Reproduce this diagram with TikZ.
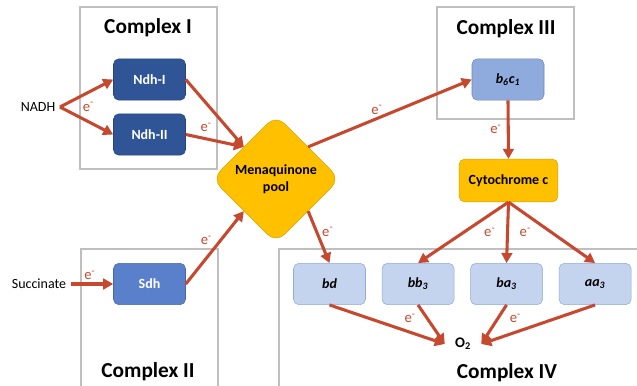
\documentclass[tikz,border=0pt]{standalone}
\usepackage{fontspec}
\setmainfont{Carlito}
\usetikzlibrary{positioning,arrows.meta,shapes.geometric}
\definecolor{ndhblue}{HTML}{2F5597}
\definecolor{sdhblue}{HTML}{5A80CC}
\definecolor{midblue}{HTML}{8FAADC}
\definecolor{paleblue}{HTML}{C5D4EE}
\definecolor{mqorange}{HTML}{FFC000}
\definecolor{flowred}{HTML}{C5482F}
\definecolor{framegray}{HTML}{BFBFBF}

\begin{document}
\begin{tikzpicture}[
		x=0.75pt, y=-0.75pt,
		> = {Triangle[length=7.5pt,width=8pt]},
		node distance=12pt,
		frame/.style={draw=framegray, line width=0.8pt},
		title/.style={font=\fontsize{16}{19}\selectfont\bfseries},
		enz/.style={draw, rounded corners=4pt, minimum width=54pt, minimum height=31pt, inner sep=1pt, font=\fontsize{10.5}{13}\selectfont\bfseries},
		ndh/.style={enz, fill=ndhblue, draw=ndhblue!80!black, text=white},
		sdh/.style={enz, fill=sdhblue, draw=sdhblue!80!black, text=white},
		cyt/.style={enz, fill=midblue, draw=midblue!80!black},
		oxi/.style={enz, fill=paleblue, draw=midblue},
		pool/.style={enz, fill=mqorange, draw=mqorange!85!black},
		substrate/.style={font=\fontsize{10.5}{12}\selectfont},
		flow/.style={->, draw=flowred, line width=2.3pt},
		elabel/.style={inner sep=1pt, text=flowred, font=\fontsize{11}{12}\selectfont}
		]
		\useasboundingbox (0,0) rectangle (637,386);
		% complexes
		\draw[frame] (80,7) rectangle (217,169);
		\draw[frame] (437,7) rectangle (574,119);
		\draw[frame] (81,249) rectangle (218,395);
		\draw[frame] (279,249) rectangle (645,395);
		\node[title] at (148,28) (tI) {Complex I};
		\node[title] at (506,29) (tIII) {Complex III};
		\node[title] at (148,372) (tII) {Complex II};
		\node[title] at (507,373) (tIV) {Complex IV};

		% enzymes
		\node[ndh] at (149.5,79.5) (ndh1) {Ndh-I};
		\node[ndh] at (149.5,134.5) (ndh2) {Ndh-II};
		\node[sdh] at (149.5,284) (sdh) {Sdh};
		\node[pool, diamond, aspect=1, rounded corners=9pt, minimum width=96pt, minimum height=96pt, inner sep=0pt, align=center] at (276,179) (mq) {Menaquinone\\pool};
		\node[cyt] at (508,79.5) (bc) {\textit{b\textsubscript{6}c\textsubscript{1}}};
		\node[pool, minimum width=74pt, minimum height=32pt] at (508.5,180.5) (cytc) {Cytochrome c};
		\node[oxi] at (329.5,284) (bd) {\textit{bd}};
		\node[oxi, right=of bd] (bb3) {\textit{bb\textsubscript{3}}};
		\node[oxi, right=of bb3] (ba3) {\textit{ba\textsubscript{3}}};
		\node[oxi, right=of ba3] (aa3) {\textit{aa\textsubscript{3}}};
		\node[minimum width=27pt, inner sep=1pt, font=\fontsize{11}{12}\selectfont\bfseries] at (463,344) (o2) {O\textsubscript{2}};

		% donors
		\node[substrate] at (38,107) (nadh) {NADH};
		\node[substrate] at (39,284) (succ) {Succinate};

		% electron flow
		\draw[flow] (nadh.east) -- (ndh1.west);
		\draw[flow] (nadh.east) -- (ndh2.west);
		\node[elabel, right=16pt of nadh] (e0) {e\textsuperscript{-}};
		\draw[flow] (ndh1.east) -- (mq.north west);
		\draw[flow] (ndh2.east) -- node[elabel, pos=0.35, above=3pt] {e\textsuperscript{-}} (mq.north west);
		\draw[flow] (succ.east) -- node[elabel, pos=0.45, above=1pt] {e\textsuperscript{-}} (sdh.west);
		\draw[flow] (sdh.east) -- node[elabel, pos=0.5, above left=0pt] {e\textsuperscript{-}} (mq.south west);
		\draw[flow] (mq.north east) -- node[elabel, pos=0.42, above=1pt] {e\textsuperscript{-}} (bc.west);
		\draw[flow] (bc.south) -- node[elabel, left=3pt] {e\textsuperscript{-}} (cytc.north);
		\draw[flow] (mq.south east) -- node[elabel, pos=0.4, right=2pt] {e\textsuperscript{-}} (bd.north);
		\draw[flow] (cytc.south) -- (bb3.north);
		\draw[flow] (cytc.south) -- node[elabel, left=7pt] {e\textsuperscript{-}} node[elabel, right=7pt] {e\textsuperscript{-}} (ba3.north);
		\draw[flow] (cytc.south) -- (aa3.north);
		\draw[flow] (bd.south) -- node[elabel, pos=0.7, above=5pt] {e\textsuperscript{-}} (o2.west);
		\draw[flow] (bb3.south) -- (o2.west);
		\draw[flow] (ba3.south) -- (o2.east);
		\draw[flow] (aa3.south) -- node[elabel, pos=0.7, above=5pt] {e\textsuperscript{-}} (o2.east);
	\end{tikzpicture}
\end{document}
